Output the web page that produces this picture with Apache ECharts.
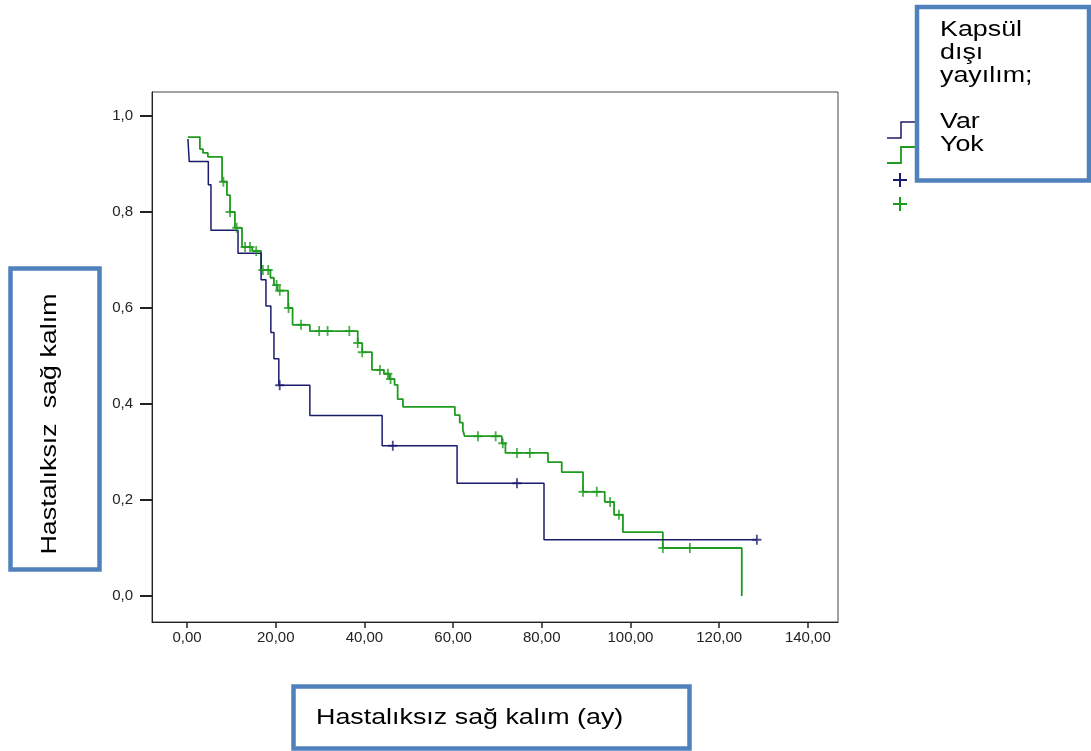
<!DOCTYPE html>
<html>
<head>
<meta charset="utf-8">
<script src="https://cdn.jsdelivr.net/npm/echarts@6/dist/echarts.min.js"></script>
<style>
  html, body { margin: 0; padding: 0; background: #fff; }
  #chart { width: 1091px; height: 751px; }
</style>
</head>
<body>
<div id="chart"></div>
<script>
// eksen işaretleri
const xTicks = [0, 20, 40, 60, 80, 100, 120, 140];
const yTicks = [0, 0.2, 0.4, 0.6, 0.8, 1.0];

// Kapsül dışı yayılım: Var (olay zamanları ve sağ kalım)
const varTime = [0.2, 0.5, 4.8, 5.4, 11.5, 16.7, 17.8, 18.9, 19.6, 20.7, 27.7, 44.0, 60.9, 80.5, 128.5];
const varSurv = [0.952, 0.905, 0.857, 0.762, 0.714, 0.659, 0.604, 0.549, 0.494, 0.439, 0.376, 0.313, 0.235, 0.117, 0.117];
const varCensTime = [20.9, 46.4, 74.4, 128.5];
const varCensSurv = [0.439, 0.313, 0.235, 0.117];

// Kapsül dışı yayılım: Yok
const yokTime = [0.2, 2.9, 3.6, 4.7, 7.9, 9.0, 9.7, 10.8, 12.4, 14.7, 16.7, 18.8, 19.6, 20.4, 22.8, 23.8, 27.7, 38.5, 39.5, 41.7, 44.4, 45.6, 46.8, 47.5, 48.7, 60.4, 61.5, 62.2, 62.6, 71.0, 71.8, 81.4, 84.5, 89.3, 94.2, 96.3, 98.3, 107.3, 125.1];
const yokSurv = [0.956, 0.931, 0.923, 0.915, 0.863, 0.835, 0.800, 0.767, 0.727, 0.719, 0.679, 0.663, 0.648, 0.636, 0.600, 0.565, 0.552, 0.527, 0.508, 0.471, 0.463, 0.452, 0.440, 0.410, 0.394, 0.377, 0.361, 0.346, 0.333, 0.318, 0.298, 0.279, 0.258, 0.217, 0.196, 0.169, 0.133, 0.100, 0.000];
const yokCensTime = [8.2, 9.7, 11.2, 13.1, 14.2, 15.6, 17.1, 18.3, 20.2, 20.9, 22.9, 25.7, 29.8, 31.7, 36.6, 38.5, 39.5, 43.5, 45.3, 45.9, 65.6, 69.6, 71.2, 74.4, 77.3, 89.3, 92.4, 95.4, 97.4, 107.3, 113.4];
const yokCensSurv = [0.863, 0.800, 0.767, 0.727, 0.727, 0.719, 0.679, 0.679, 0.648, 0.636, 0.600, 0.565, 0.552, 0.552, 0.552, 0.527, 0.508, 0.471, 0.463, 0.452, 0.333, 0.333, 0.318, 0.298, 0.298, 0.217, 0.217, 0.196, 0.169, 0.100, 0.100];

const VAR_COLOR = '#1b1b6e';
const YOK_COLOR = '#1f9b1f';
const BOX_COLOR = '#4f81bd';
const FONT = 'Liberation Sans, Arial, sans-serif';
const PLUS = 'path://M4,0 L6,0 L6,4 L10,4 L10,6 L6,6 L6,10 L4,10 L4,6 L0,6 L0,4 L4,4 Z';

const pairs = (a, b) => a.map((t, i) => [t, b[i]]);

const myChart = echarts.init(document.getElementById('chart'));

myChart.setOption({
    animation: false,
    backgroundColor: '#fff',
    grid: {
        left: 152, right: 253, top: 92, bottom: 129,
        show: true, borderColor: '#444', borderWidth: 1,
        outerBoundsMode: 'none'
    },
    xAxis: {
        type: 'value',
        min: -7.9,
        max: 146.8,
        splitLine: { show: false },
        axisLine: { show: true, onZero: false, lineStyle: { color: '#222', width: 1 } },
        axisTick: { show: true, length: 6, customValues: xTicks, lineStyle: { color: '#222', width: 1.5 } },
        axisLabel: {
            customValues: xTicks,
            margin: 8,
            fontFamily: FONT, fontSize: 15, color: '#222',
            formatter: v => v.toFixed(2).replace('.', ',')
        }
    },
    yAxis: {
        type: 'value',
        min: -0.0542,
        max: 1.05,
        splitLine: { show: false },
        axisLine: { show: true, onZero: false, lineStyle: { color: '#222', width: 1 } },
        axisTick: { show: true, length: 12, customValues: yTicks, lineStyle: { color: '#222', width: 2 } },
        axisLabel: {
            customValues: yTicks,
            margin: 19,
            fontFamily: FONT, fontSize: 15, color: '#222',
            formatter: v => v.toFixed(1).replace('.', ',')
        }
    },
    series: [
        {
            name: 'Var',
            type: 'line',
            step: 'end',
            symbol: 'none',
            data: pairs(varTime, varSurv),
            lineStyle: { color: VAR_COLOR, width: 1.5 },
            z: 3
        },
        {
            name: 'Yok',
            type: 'line',
            step: 'end',
            symbol: 'none',
            data: pairs(yokTime, yokSurv),
            lineStyle: { color: YOK_COLOR, width: 1.8 },
            z: 2
        },
        {
            name: 'Var-sansürlü',
            type: 'scatter',
            symbol: PLUS,
            symbolSize: [9, 10],
            data: pairs(varCensTime, varCensSurv),
            itemStyle: { color: VAR_COLOR },
            z: 4
        },
        {
            name: 'Yok-sansürlü',
            type: 'scatter',
            symbol: PLUS,
            symbolSize: [9, 10],
            data: pairs(yokCensTime, yokCensSurv),
            itemStyle: { color: YOK_COLOR },
            z: 4
        }
    ],
    graphic: [
        // lejant simgeleri (kutunun altında kalıyor)
        { type: 'polyline', z: 50, shape: { points: [[887, 138], [901, 138], [901, 122], [918, 122]] },
          style: { stroke: VAR_COLOR, lineWidth: 1.5, fill: null } },
        { type: 'polyline', z: 50, shape: { points: [[887, 163], [901, 163], [901, 147], [918, 147]] },
          style: { stroke: YOK_COLOR, lineWidth: 1.8, fill: null } },
        { type: 'polyline', z: 50, shape: { points: [[893, 180], [907, 180]] }, style: { stroke: VAR_COLOR, lineWidth: 2 } },
        { type: 'polyline', z: 50, shape: { points: [[900, 173], [900, 187]] }, style: { stroke: VAR_COLOR, lineWidth: 2 } },
        { type: 'polyline', z: 50, shape: { points: [[893, 204], [907, 204]] }, style: { stroke: YOK_COLOR, lineWidth: 2 } },
        { type: 'polyline', z: 50, shape: { points: [[900, 197], [900, 211]] }, style: { stroke: YOK_COLOR, lineWidth: 2 } },

        // sağ üst kutu
        { type: 'rect', z: 60, shape: { x: 917, y: 7, width: 172, height: 173.5 },
          style: { fill: '#fff', stroke: BOX_COLOR, lineWidth: 4.5 } },
        { type: 'text', z: 61, x: 940, y: 18, scaleX: 1.22,
          style: { text: 'Kapsül\ndışı\nyayılım;\n\nVar\nYok', fontFamily: FONT, fontSize: 22,
                   lineHeight: 23, fill: '#000', verticalAlign: 'top' } },

        // y ekseni başlık kutusu
        { type: 'rect', z: 60, shape: { x: 10.5, y: 268.5, width: 89, height: 301 },
          style: { fill: '#fff', stroke: BOX_COLOR, lineWidth: 4.5 } },
        { type: 'text', z: 61, x: 50, y: 424, rotation: Math.PI / 2, scaleX: 1.22,
          style: { text: 'Hastalıksız  sağ kalım', fontFamily: FONT, fontSize: 22, fill: '#000',
                   align: 'center', verticalAlign: 'middle' } },

        // x ekseni başlık kutusu
        { type: 'rect', z: 60, shape: { x: 293.5, y: 686.5, width: 396, height: 62 },
          style: { fill: '#fff', stroke: BOX_COLOR, lineWidth: 4.5 } },
        { type: 'text', z: 61, x: 316, y: 718, scaleX: 1.22,
          style: { text: 'Hastalıksız sağ kalım (ay)', fontFamily: FONT, fontSize: 22, fill: '#000',
                   align: 'left', verticalAlign: 'middle' } }
    ]
});
</script>
</body>
</html>
